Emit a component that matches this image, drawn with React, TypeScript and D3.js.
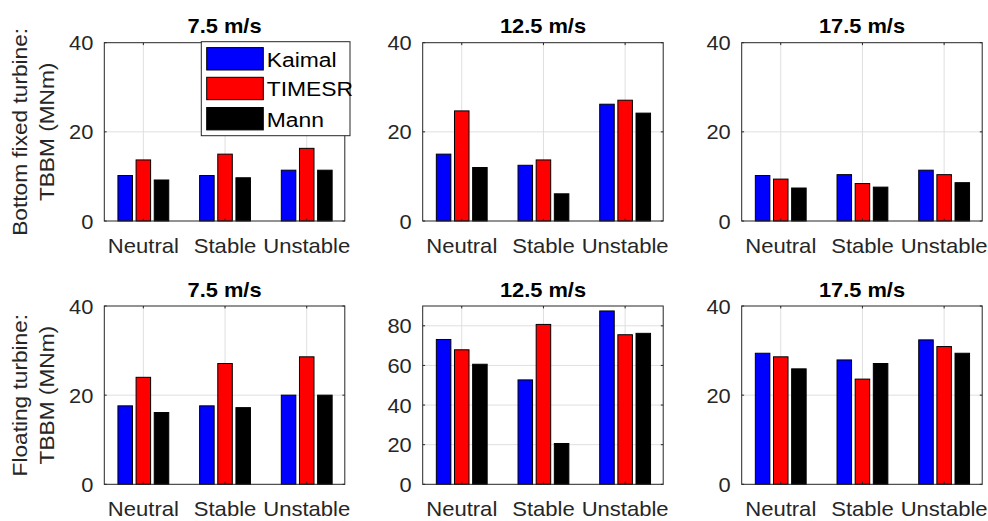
import React from "react";
import * as d3 from "d3";

const categories = ["Neutral", "Stable", "Unstable"];
const seriesNames = ["Kaimal", "TIMESR", "Mann"];
const seriesColors = ["#0000ff", "#ff0000", "#000000"];
const speedTitles = ["7.5 m/s", "12.5 m/s", "17.5 m/s"];

// rows = categories (Neutral, Stable, Unstable), columns = series (Kaimal, TIMESR, Mann)
const fixed75 = [[10.2, 13.7, 9.2], [10.2, 15.0, 9.7], [11.4, 16.3, 11.4]];
const fixed125 = [[15.0, 24.7, 12.0], [12.5, 13.7, 6.1], [26.2, 27.1, 24.2]];
const fixed175 = [[10.2, 9.4, 7.4], [10.4, 8.4, 7.6], [11.4, 10.4, 8.6]];
const float75 = [[17.6, 24.0, 16.1], [17.6, 27.1, 17.2], [20.0, 28.6, 20.0]];
const float125 = [[73.1, 67.9, 60.6], [52.7, 80.7, 20.6], [87.5, 75.5, 76.2]];
const float175 = [[29.4, 28.6, 25.9], [27.9, 23.6, 27.1], [32.4, 30.9, 29.4]];

const ticks40 = [0, 20, 40];
const ticks90 = [0, 20, 40, 60, 80];

const rowLabels = [["Bottom fixed turbine:", "TBBM (MNm)"], ["Floating turbine:", "TBBM (MNm)"]];

const FONT = "'Liberation Sans', Arial, Helvetica, sans-serif";
const AX = "#262626";
const GRID = "#dfdfdf";

const panelLefts = [104.3, 422.7, 741.7];
const panelW = 240.5;
const rowTops = [42.7, 306];
const rowBottoms = [221, 484.3];

type PanelProps = {
  left: number; top: number; bottom: number; data: number[][];
  yMax: number; ticks: number[]; title: string;
};

function Panel({ left, top, bottom, data, yMax, ticks, title }: PanelProps) {
  const x = d3.scaleLinear().domain([0.522, 3.466]).range([left, left + panelW]);
  const y = d3.scaleLinear().domain([0, yMax]).range([bottom, top]);
  const groupOffset = 0.2222;
  const barW = 0.1778;
  const tl = 2.4;
  const right = left + panelW;
  const cx = left + panelW / 2;
  return (
    <g>
      <rect x={left} y={top} width={panelW} height={bottom - top} fill="#fff" />
      {ticks.filter(t => t > 0 && t < yMax).map(t => (
        <line key={"gy" + t} x1={left} x2={right} y1={y(t)} y2={y(t)} stroke={GRID} strokeWidth={1} />
      ))}
      {categories.map((c, i) => (
        <line key={"gx" + c} x1={x(i + 1)} x2={x(i + 1)} y1={top} y2={bottom} stroke={GRID} strokeWidth={1} />
      ))}
      {data.map((row, i) => row.map((v, j) => {
        const c = i + 1 + (j - 1) * groupOffset;
        return (
          <rect key={i + "-" + j} x={x(c - barW / 2)} y={y(v)} width={x(c + barW / 2) - x(c - barW / 2)}
            height={y(0) - y(v)} fill={seriesColors[j]} stroke="#000" strokeWidth={1} />
        );
      }))}
      <rect x={left} y={top} width={panelW} height={bottom - top} fill="none" stroke={AX} strokeWidth={1} />
      {ticks.map(t => (
        <g key={"ty" + t}>
          <line x1={left} x2={left + tl} y1={y(t)} y2={y(t)} stroke={AX} />
          <line x1={right} x2={right - tl} y1={y(t)} y2={y(t)} stroke={AX} />
          <text transform={`translate(${left - 11},${y(t) + 7.5}) scale(1.04,1)`} textAnchor="end"
            fontFamily={FONT} fontSize={21} fill={AX}>{t}</text>
        </g>
      ))}
      {categories.map((c, i) => (
        <g key={"tx" + c}>
          <line x1={x(i + 1)} x2={x(i + 1)} y1={bottom} y2={bottom - tl} stroke={AX} />
          <line x1={x(i + 1)} x2={x(i + 1)} y1={top} y2={top + tl} stroke={AX} />
          <text transform={`translate(${x(i + 1)},${bottom + 31.8}) scale(1.05,1)`} textAnchor="middle"
            fontFamily={FONT} fontSize={21} fill={AX}>{c}</text>
        </g>
      ))}
      <text transform={`translate(${cx},${top - 9.5}) scale(1.04,1)`} textAnchor="middle"
        fontFamily={FONT} fontSize={21} fontWeight="bold" fill="#000">{title}</text>
    </g>
  );
}

function Legend() {
  const lx = 201.3, ly = 41.7, lw = 148.7, lh = 94;
  const centers = [58.8, 88.5, 118.7];
  return (
    <g>
      <rect x={lx} y={ly} width={lw} height={lh} fill="#fff" stroke={AX} strokeWidth={1} />
      {seriesNames.map((s, i) => (
        <g key={s}>
          <rect x={206.7} y={centers[i] - 11.2} width={56.6} height={22.4} fill={seriesColors[i]} stroke="#000" strokeWidth={1} />
          <text transform={`translate(266.7,${centers[i] + 7.8}) scale(1.09,1)`} fontFamily={FONT} fontSize={21} fill="#000">{s}</text>
        </g>
      ))}
    </g>
  );
}

export default function App() {
  const rows = [
    { data: [fixed75, fixed125, fixed175], yMax: [40, 40, 40], ticks: [ticks40, ticks40, ticks40] },
    { data: [float75, float125, float175], yMax: [40, 90, 40], ticks: [ticks40, ticks90, ticks40] },
  ];
  return (
    <svg width={988} height={521} style={{ position: "absolute", left: 0, top: 0, background: "#fff" }}>
      <rect x={0} y={0} width={988} height={521} fill="#fff" />
      {rows.map((r, ri) => (
        <g key={ri}>
          {r.data.map((d, ci) => (
            <Panel key={ci} left={panelLefts[ci]} top={rowTops[ri]} bottom={rowBottoms[ri]} data={d}
              yMax={r.yMax[ci]} ticks={r.ticks[ci]} title={speedTitles[ci]} />
          ))}
          {rowLabels[ri].map((lab, li) => {
            const cy = (rowTops[ri] + rowBottoms[ri]) / 2;
            const bx = li === 0 ? 26.8 : 54;
            return (
              <text key={li} transform={`translate(${bx},${cy}) rotate(-90) scale(1.08,1)`} textAnchor="middle"
                fontFamily={FONT} fontSize={21} fill={AX}>{lab}</text>
            );
          })}
        </g>
      ))}
      <Legend />
    </svg>
  );
}
